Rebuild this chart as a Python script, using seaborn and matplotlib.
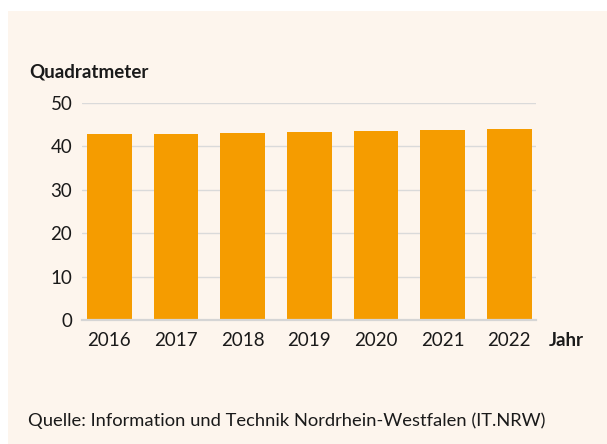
import matplotlib
matplotlib.use("Agg")
import matplotlib.pyplot as plt
import seaborn as sns
import pandas as pd
from matplotlib.patches import Rectangle

years = ["2016", "2017", "2018", "2019", "2020", "2021", "2022"]
values = [42.9, 42.9, 43.2, 43.4, 43.6, 43.8, 44.1]
y_ticks = [0, 10, 20, 30, 40, 50]

sns.set_theme(style="white")
plt.rcParams["font.family"] = ["Lato", "DejaVu Sans"]

W, H = 607, 444
fig = plt.figure(figsize=(W / 100, H / 100), dpi=100, facecolor="white")
bg = "#FDF5ED"
panel = Rectangle((8 / W, 0), 1 - 8 / W, 1 - 11 / H, transform=fig.transFigure,
                  facecolor=bg, edgecolor="none", zorder=-10)
fig.add_artist(panel)

ax = fig.add_axes([82 / W, 1 - 320 / H, (536 - 82) / W, (320 - 103) / H])
ax.set_facecolor("none")
ax.set_zorder(1)

df = pd.DataFrame({"Jahr": years, "Quadratmeter": values})
sns.barplot(data=df, x="Jahr", y="Quadratmeter", color="#F59C00", saturation=1,
            width=0.67, ax=ax, zorder=3, linewidth=0, edgecolor="none")

ax.set_xlim(-0.41, 6.40)
ax.set_ylim(0, 50)
ax.set_yticks(y_ticks)
ax.yaxis.grid(True, color="#DADADA", linewidth=1, zorder=0)
ax.set_axisbelow(True)
for s in ["top", "right", "left"]:
    ax.spines[s].set_visible(False)
ax.spines["bottom"].set_color("#D5D5D5")
ax.spines["bottom"].set_linewidth(1.6)
ax.spines["bottom"].set_zorder(4)
ax.set_xlabel("")
ax.set_ylabel("")
tc = "#1A1A1A"
ax.tick_params(axis="both", length=0, labelsize=13.5, colors=tc)
ax.tick_params(axis="x", pad=9)
ax.tick_params(axis="y", pad=7)

fig.text(29 / W, 1 - 77.5 / H, "Quadratmeter", fontsize=13.5, fontweight="bold",
         color=tc, ha="left", va="baseline")
fig.text(549 / W, 1 - 346 / H, "Jahr", fontsize=13.5, fontweight="bold",
         color=tc, ha="left", va="baseline")
fig.text(28 / W, 1 - 425.5 / H, "Quelle: Information und Technik Nordrhein-Westfalen (IT.NRW)",
         fontsize=13.2, color=tc, ha="left", va="baseline")

fig.savefig("out.png", dpi=100, facecolor="white")
